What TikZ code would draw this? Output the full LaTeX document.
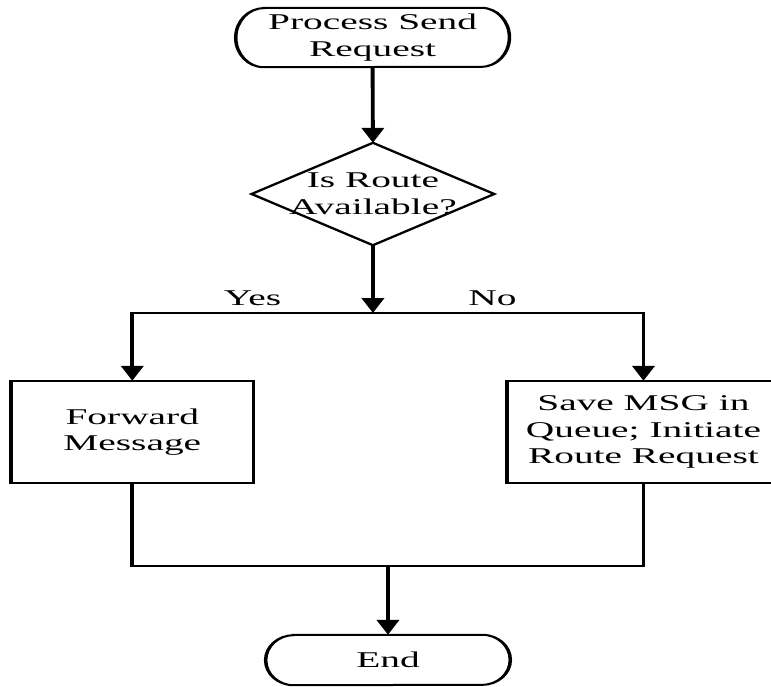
\documentclass[tikz,border=0pt]{standalone}
\usepackage{fontspec}
\setmainfont{Liberation Serif}
\usetikzlibrary{arrows.meta}
\newcommand{\figfont}{\fontsize{22.5}{26.5}\selectfont}
\begin{document}
\begin{tikzpicture}[x=1pt,y=-1pt,
  txt/.style={draw=none,inner sep=0pt,align=center,font=\figfont},
  outl/.style={line width=2pt,line join=miter},
  conn/.style={line width=2.2pt,-{Triangle[width=12.6pt,length=15pt]}},
  wire/.style={line width=2.2pt,line cap=rect}]
\useasboundingbox[fill=white] (0,0) rectangle (771,686);
\begin{scope}[transform canvas={xscale=1.75}]
% nodes
\node[txt,minimum width=156pt,minimum height=59pt] (start) at (212.9,37.5) {Process Send\\Request};
\node[txt,minimum width=138.3pt,minimum height=102pt] (dec) at (213.1,194) {Is Route\\Available?};
\node[txt,minimum width=138.3pt,minimum height=102pt] (lb) at (75.6,432) {Forward\\Message};
\node[txt,minimum width=155.4pt,minimum height=102pt] (rb) at (367.7,432) {Save MSG in\\Queue; Initiate\\Route Request};
\node[txt,minimum width=139.4pt,minimum height=50pt] (fin) at (221.7,660) {End};
\node[txt,anchor=base] (yes) at (144.3,305) {Yes};
\node[txt,anchor=base] (no) at (281.4,305) {No};
% outlines
\draw[outl] ([xshift=16pt]start.north west) -- ([xshift=-16pt]start.north east)
  arc[start angle=90,end angle=-90,x radius=16pt,y radius=29.5pt]
  -- ([xshift=16pt]start.south west)
  arc[start angle=270,end angle=90,x radius=16pt,y radius=29.5pt] -- cycle;
\draw[outl] (dec.north) -- (dec.east) -- (dec.south) -- (dec.west) -- cycle;
\draw[outl] (lb.north west) rectangle (lb.south east);
\draw[outl] (rb.north west) rectangle (rb.south east);
\draw[outl] ([xshift=16pt]fin.north west) -- ([xshift=-16pt]fin.north east)
  arc[start angle=90,end angle=-90,x radius=16pt,y radius=25pt]
  -- ([xshift=16pt]fin.south west)
  arc[start angle=270,end angle=90,x radius=16pt,y radius=25pt] -- cycle;
% connectors
\coordinate (jt) at (dec.south |- 0,313);
\coordinate (jl) at (lb.north |- jt);
\coordinate (jr) at (rb.north |- jt);
\coordinate (bl) at (lb.south |- 0,566);
\coordinate (br) at (rb.south |- 0,566);
\coordinate (jb) at (fin.north |- 0,566);
\draw[conn] (start.south) -- (dec.north);
\draw[conn] (dec.south) -- (jt);
\draw[wire] (jl) -- (jr);
\draw[conn] (jl) -- (lb.north);
\draw[conn] (jr) -- (rb.north);
\draw[wire,line join=miter] (lb.south) -- (bl) -- (br) -- (rb.south);
\draw[conn] (jb) -- (fin.north);
\end{scope}
\end{tikzpicture}
\end{document}
